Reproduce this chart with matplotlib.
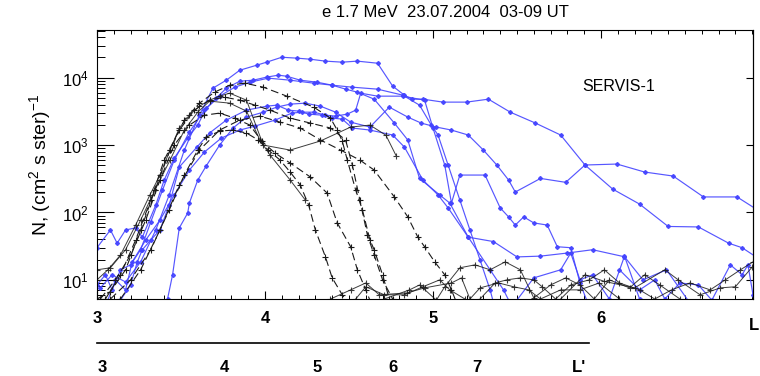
import matplotlib
matplotlib.use("Agg")
import matplotlib.pyplot as plt
from matplotlib.ticker import LogLocator, MultipleLocator, NullFormatter, NullLocator

plt.rcParams['font.family'] = ['Liberation Sans', 'DejaVu Sans']
plt.rcParams['mathtext.fontset'] = 'custom'
plt.rcParams['mathtext.rm'] = 'Liberation Sans'

BLUE = '#4444ff'
BLACK = '#1a1a1a'

# ---- blue passes (diamond markers) ----
b1_L = [3.02, 3.09, 3.17, 3.26, 3.35, 3.43, 3.52, 3.61, 3.69, 3.77, 3.85, 3.95, 4.01, 4.10,
        4.19, 4.27, 4.36, 4.46, 4.55, 4.67, 4.76, 4.83, 4.875, 4.94, 5.06, 5.20, 5.33, 5.46,
        5.61, 5.76, 5.905, 6.095, 6.26, 6.43, 6.61, 6.81, 6.95]
b1_N = [7.6, 11.9, 9.3, 18.5, 55, 182, 843, 2780, 6990, 9180, 12900, 15300, 17000, 20100,
        19500, 18800, 17600, 17000, 17600, 16400, 7500, 5500, 4800, 4800, 4340, 4340, 4800, 3080,
        2120, 1410, 506, 523, 398, 347, 170, 170, 102]

b2_L = [3.00, 3.08, 3.12, 3.17, 3.23, 3.27, 3.35, 3.40, 3.46, 3.54, 3.60, 3.65, 3.71, 3.77,
        3.85, 3.93, 4.01, 4.08, 4.13, 4.21, 4.31, 4.40, 4.52, 4.67, 4.82, 4.92, 4.99, 5.03,
        5.09, 5.16, 5.22, 5.28, 5.34, 5.38]
b2_N = [30, 55, 35, 55, 59, 43, 129, 303, 640, 1270, 1980, 3530, 4970, 6990,
        8870, 9180, 10200, 10900, 10500, 9180, 8570, 7740, 7230, 6760, 5510, 3910, 1980, 1410,
        506, 153, 55, 19.8, 7.1, 3]

b3_L = [3.00, 3.05, 3.09, 3.14, 3.20, 3.26, 3.32, 3.39, 3.46, 3.55, 3.64, 3.73, 3.82, 3.91,
        4.02, 4.15, 4.29, 4.40, 4.48, 4.55, 4.65, 4.77, 4.85, 4.92, 5.04, 5.10, 5.21, 5.34,
        5.42, 5.47, 5.60, 5.76, 5.82, 5.875, 5.95, 6.05, 6.14, 6.23]
b3_N = [8.4, 11.9, 7.1, 14.1, 16.7, 28, 72, 215, 599, 1560, 3300, 5320, 7230, 8570,
        9840, 9180, 8290, 7740, 6760, 6100, 4800, 2120, 1190, 320, 182, 138, 43, 14.1,
        7.1, 4, 10.7, 14.1, 25, 10, 11.9, 5.2, 22.5, 5.2]

b4_L = [3.14, 3.20, 3.24, 3.27, 3.32, 3.375, 3.43, 3.49, 3.595, 3.67, 3.77, 3.89, 4.01, 4.07,
        4.14, 4.20, 4.26, 4.34, 4.40, 4.46, 4.52, 4.625, 4.76, 4.83, 4.94, 5.03, 5.09, 5.21,
        5.36, 5.50, 5.64, 5.80, 5.95, 6.14, 6.25, 6.39, 6.53]
b4_N = [5.0, 8.4, 18.5, 28, 39, 55, 129, 472, 934, 1510, 2350, 3300, 3780, 3910,
        3300, 3190, 2880, 2780, 2510, 2430, 1790, 1670, 1410, 934, 303, 182, 117, 43,
        37, 21.9, 22.5, 25, 28, 22, 10, 14.1, 4.5]

b5_L = [3.05, 3.11, 3.17, 3.21, 3.29, 3.375, 3.46, 3.55, 3.64, 3.74, 3.85, 3.94, 4.06, 4.16,
        4.22, 4.29, 4.36, 4.42, 4.49, 4.54, 4.57, 4.67, 4.82, 4.95, 5.00, 5.07, 5.11, 5.16,
        5.31, 5.40, 5.45, 5.49, 5.54, 5.60, 5.68, 5.74, 5.82, 5.875, 5.93]
b5_N = [4.0, 10, 7.1, 18.5, 39, 77, 182, 426, 790, 1270, 1670, 1910, 2350, 2980,
        3080, 3080, 2780, 2690, 2880, 3300, 5890, 5320, 5320, 4640, 1790, 506, 138, 359,
        359, 117, 86, 65, 86, 70, 65, 31, 30, 9, 4]

b6_L = [3.375, 3.42, 3.45, 3.49, 3.54, 3.55, 3.60, 3.65, 3.73, 3.81, 3.89, 3.99, 4.07, 4.15,
        4.24, 4.33, 4.42, 4.51, 4.625, 4.74, 4.85, 4.93, 5.02, 5.11, 5.21, 5.30, 5.38, 5.45,
        5.49, 5.64, 5.79, 5.905, 6.07, 6.23, 6.40, 6.58, 6.76, 6.84, 6.95]
b6_N = [3.5, 5.2, 11.9, 59, 98, 138, 303, 489, 1000, 1790, 2600, 3080, 3660, 4050,
        4190, 3780, 3080, 2190, 1850, 3660, 2600, 2120, 1850, 1670, 1410, 843, 506, 303,
        201, 320, 280, 506, 222, 133, 62, 61, 35, 30, 19.8]

b7_L = [6.11, 6.23, 6.32, 6.38, 6.47, 6.58, 6.66, 6.77, 6.84, 6.875, 6.905]
b7_N = [14.1, 7.1, 10, 5.2, 9, 8.4, 5, 16.7, 11.9, 16.7, 6]

# ---- black passes, dashed (plus markers) ----
k1_L = [3.00, 3.08, 3.17, 3.26, 3.345, 3.435, 3.52, 3.61, 3.70, 3.79, 3.88, 3.99, 4.13, 4.29,
        4.39, 4.43, 4.46, 4.49, 4.54, 4.58, 4.625, 4.65, 4.70, 4.74]
k1_N = [5.2, 6.7, 14.1, 55, 215, 843, 2350, 4190, 6100, 7740, 8290, 7230, 5320, 3660,
        2510, 1670, 1150, 599, 215, 109, 39, 28, 11.9, 5.2]

k2_L = [3.05, 3.14, 3.23, 3.32, 3.40, 3.49, 3.58, 3.67, 3.76, 3.85, 3.94, 4.03, 4.15, 4.27,
        4.39, 4.48, 4.52, 4.565, 4.61, 4.65, 4.70, 4.76]
k2_N = [5.2, 11.9, 39, 153, 599, 1670, 3300, 4640, 5140, 4640, 3910, 3300, 2510, 2120,
        1790, 1190, 506, 153, 46, 23.4, 10, 5.2]

k3_L = [3.08, 3.20, 3.32, 3.43, 3.52, 3.60, 3.65, 3.73, 3.81, 3.89, 3.96, 4.02, 4.09, 4.15,
        4.21, 4.26, 4.30, 4.36, 4.40, 4.46, 4.51]
k3_N = [5.2, 10, 28, 109, 359, 843, 1310, 1610, 1670, 1510, 1190, 843, 599, 398,
        255, 129, 55, 21.9, 10.7, 6.0, 4]

k4_L = [3.02, 3.11, 3.20, 3.29, 3.375, 3.46, 3.55, 3.64, 3.73, 3.82, 3.91, 3.98, 4.06, 4.15,
        4.27, 4.37, 4.43, 4.51, 4.55, 4.60, 4.64]
k4_N = [5.2, 10, 23.4, 77, 303, 1000, 1980, 2780, 2980, 2510, 1980, 1150, 761, 541,
        336, 194, 70, 31, 14.1, 7.1, 4]

k5_L = [3.14, 3.26, 3.375, 3.49, 3.61, 3.73, 3.85, 3.97, 4.09, 4.21, 4.33, 4.45, 4.565, 4.65,
        4.77, 4.85, 4.91, 4.95, 5.01, 5.07, 5.11, 5.15]
k5_N = [5.2, 14.1, 55, 255, 843, 1670, 2350, 2690, 2190, 1790, 1190, 843, 599, 426,
        170, 86, 43, 31, 18.5, 11.9, 7.1, 4]

# ---- black passes, solid ----
s1_L = [3.00, 3.065, 3.14, 3.23, 3.315, 3.375, 3.435, 3.49, 3.55, 3.61, 3.67, 3.73, 3.79,
        3.89, 3.99, 4.15, 4.33, 4.51, 4.625, 4.72, 4.78]
s1_N = [10, 14.1, 23.4, 65, 182, 359, 843, 1790, 2780, 3780, 4640, 5320, 5890,
        4640, 1000, 843, 1150, 1850, 1980, 1400, 700]

s2_L = [3.00, 3.08, 3.17, 3.26, 3.345, 3.435, 3.52, 3.60, 3.67, 3.79, 3.89, 3.97, 4.03, 4.15, 4.24]
s2_N = [14.1, 15.1, 28, 77, 215, 599, 1670, 3080, 4490, 4190, 3190, 1190, 711, 303, 153]

n1_L = [4.39, 4.51, 4.60, 4.68, 4.845, 4.95, 5.11, 5.17, 5.22, 5.28, 5.39, 5.48, 5.57, 5.64,
        5.76, 5.875, 5.99, 6.11]
n1_N = [5.2, 7.1, 9, 6, 6.4, 7.6, 9, 10.7, 5.2, 7.6, 9, 7.9, 7.1, 5.2,
        7.1, 7.1, 9, 5.2]

n2_L = [4.71, 4.86, 4.92, 5.02, 5.07, 5.16, 5.25, 5.34, 5.43, 5.52, 5.60, 5.70, 5.79, 5.875,
        5.96, 6.05, 6.17, 6.26, 6.35, 6.47]
n2_N = [5.2, 7.1, 8.4, 5, 7.9, 15.1, 16.7, 14.1, 18.5, 14.1, 5.4, 8.4, 10.7, 8.4,
        5.2, 10, 7.6, 11.9, 8.4, 5.2]

n3_L = [5.28, 5.37, 5.44, 5.52, 5.60, 5.65, 5.73, 5.82, 5.93, 6.02, 6.11, 6.23, 6.32, 6.42,
        6.53, 6.65, 6.74, 6.83, 6.905]
n3_N = [5.2, 9, 10, 10.7, 10, 7.9, 5.2, 8.4, 10, 14.1, 9, 7.1, 5.2, 7.1,
        9, 7.1, 10, 14.1, 18.5]

n4_L = [5.76, 5.905, 6.02, 6.20, 6.38, 6.46, 6.59, 6.71, 6.80, 6.90]
n4_N = [5.2, 11.9, 9.5, 7.6, 14.1, 10, 6.0, 7.6, 7.9, 15.5]

n5_L = [4.54, 4.60, 4.71, 4.83, 4.94, 5.04, 5.10, 5.19]
n5_N = [5.2, 7.9, 6.0, 6.0, 7.9, 10, 7.1, 5.2]

blue_passes = [(b1_L, b1_N), (b2_L, b2_N), (b3_L, b3_N), (b4_L, b4_N),
               (b5_L, b5_N), (b6_L, b6_N), (b7_L, b7_N)]
dashed_passes = [(k1_L, k1_N), (k2_L, k2_N), (k3_L, k3_N), (k4_L, k4_N), (k5_L, k5_N)]
solid_passes = [(s1_L, s1_N), (s2_L, s2_N), (n1_L, n1_N), (n2_L, n2_N),
                (n3_L, n3_N), (n4_L, n4_N), (n5_L, n5_N)]

x_ticks = [3, 4, 5, 6]
x_ticklabels = ['3', '4', '5', '6']
y_ticks = [10, 100, 1000, 10000]
y_ticklabels = [r'$\mathregular{10^{1}}$', r'$\mathregular{10^{2}}$',
                r'$\mathregular{10^{3}}$', r'$\mathregular{10^{4}}$']
lp_ticks = [3.03, 3.76, 4.31, 4.76, 5.26, 5.87]
lp_labels = ['3', '4', '5', '6', '7', "L'"]
lp_end = 5.93

fig = plt.figure(figsize=(7.6, 3.76), dpi=100)
ax = fig.add_axes([0.1276, 0.2048, 0.8632, 0.7154])

for L, N in blue_passes:
    ax.plot(L, N, color=BLUE, lw=0.85, marker='D', ms=2.0, mfc=BLUE, mec=BLUE, alpha=0.9)
for L, N in dashed_passes:
    ax.plot(L, N, color=BLACK, lw=0.8, dashes=(7, 3.5), marker='+', ms=4, mew=0.8)
for L, N in solid_passes:
    ax.plot(L, N, color=BLACK, lw=0.7, marker='+', ms=4, mew=0.8, alpha=0.85)

ax.set_yscale('log')
ax.set_xlim(3, 6.905)
ax.set_ylim(5.2, 5.1e4)

ax.set_xticks(x_ticks)
ax.set_xticklabels(x_ticklabels, fontsize=12, fontweight='bold')
ax.xaxis.set_minor_locator(MultipleLocator(0.1))
ax.set_yticks(y_ticks)
ax.set_yticklabels(y_ticklabels, fontsize=12)
ax.yaxis.set_minor_locator(LogLocator(base=10, subs=range(2, 10)))
ax.yaxis.set_minor_formatter(NullFormatter())

ax.tick_params(axis='x', which='major', direction='in', length=6, width=0.8,
               top=True, bottom=True, pad=9)
ax.tick_params(axis='x', which='minor', direction='in', length=3, width=0.7,
               top=True, bottom=True)
ax.tick_params(axis='y', which='major', direction='in', length=12, width=0.8,
               left=True, right=False, pad=6)
ax.tick_params(axis='y', which='minor', direction='in', length=6, width=0.7,
               left=True, right=False)
for sp in ax.spines.values():
    sp.set_linewidth(0.8)

# right axis: short major ticks only
sec = ax.secondary_yaxis('right')
sec.set_yticks(y_ticks)
sec.yaxis.set_minor_locator(NullLocator())
sec.tick_params(axis='y', which='major', direction='in', length=5, width=0.8,
                labelright=False)

ax.text(1.009, -0.07, 'L', transform=ax.transAxes, fontsize=12, fontweight='bold',
        ha='right', va='top', clip_on=False)
ax.text(0.74, 0.79, 'SERVIS-1', transform=ax.transAxes, fontsize=11.5, ha='left', va='center')
ax.set_ylabel(r'N, (cm$^{2}$ s ster)$^{-1}$', fontsize=14, labelpad=6)
fig.text(0.586, 0.966, 'e 1.7 MeV  23.07.2004  03-09 UT', fontsize=12,
         ha='center', va='center')

# second scale (L') drawn under the main one
ax2 = fig.add_axes([0.1276, 0.0878, 0.8632, 0.001])
ax2.set_xlim(ax.get_xlim())
ax2.plot([3, lp_end], [0, 0], color='black', lw=1.2, clip_on=False)
for sp in ax2.spines.values():
    sp.set_visible(False)
ax2.set_yticks([])
ax2.set_xticks(lp_ticks)
ax2.set_xticklabels(lp_labels, fontsize=12, fontweight='bold')
ax2.tick_params(axis='x', length=0, pad=12)

fig.savefig('out.png', dpi=100)
